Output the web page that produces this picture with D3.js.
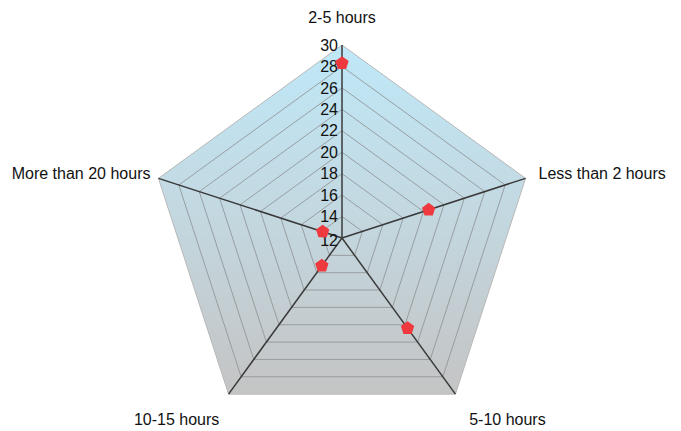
<!DOCTYPE html>
<html>
<head>
<meta charset="utf-8">
<script src="https://cdn.jsdelivr.net/npm/d3@7"></script>
<style>
  body { margin: 0; background: #fff; }
  svg { display: block; font-family: "Liberation Sans", Arial, sans-serif; }
</style>
</head>
<body>
<svg width="681" height="431"></svg>
<script>
const categories = ["2-5 hours", "Less than 2 hours", "5-10 hours", "10-15 hours", "More than 20 hours"];
const values = [28.3, 20.5, 22.4, 15.2, 13.9];
const ticks = [12, 14, 16, 18, 20, 22, 24, 26, 28, 30];

const svg = d3.select("svg");
const cx = 342, cy = 238, R = 193;
const g = svg.append("g").attr("transform", `translate(${cx},${cy})`);

const r = d3.scaleLinear().domain([12, 30]).range([0, R]);
const angle = d3.scaleLinear().domain([0, categories.length]).range([0, 2 * Math.PI]);
const pt = (i, v) => [Math.sin(angle(i)) * r(v), -Math.cos(angle(i)) * r(v)];

const defs = svg.append("defs");
const grad = defs.append("linearGradient")
  .attr("id", "bg").attr("x1", 0).attr("y1", 0).attr("x2", 0).attr("y2", 1);
grad.append("stop").attr("offset", "0%").attr("stop-color", "#bfe8f8");
grad.append("stop").attr("offset", "45%").attr("stop-color", "#c3d9e2");
grad.append("stop").attr("offset", "100%").attr("stop-color", "#c4c4c4");

const ring = v => categories.map((c, i) => pt(i, v));
const line = d3.line().curve(d3.curveLinearClosed);

g.append("path")
  .attr("d", line(ring(30)))
  .attr("fill", "url(#bg)")
  .attr("stroke", "#b8b8b8")
  .attr("stroke-width", 1);

g.selectAll("path.ring")
  .data(ticks.slice(1, -1))
  .enter()
  .append("path")
  .attr("class", "ring")
  .attr("d", d => line(ring(d)))
  .attr("fill", "none")
  .attr("stroke", "#92979b")
  .attr("stroke-width", 0.9);

g.selectAll("line.spoke")
  .data(categories)
  .enter()
  .append("line")
  .attr("class", "spoke")
  .attr("x1", 0).attr("y1", 0)
  .attr("x2", (d, i) => pt(i, 30)[0])
  .attr("y2", (d, i) => pt(i, 30)[1])
  .attr("stroke", "#3a3a3a")
  .attr("stroke-width", 1.5);

g.selectAll("text.tick")
  .data(ticks)
  .enter()
  .append("text")
  .attr("class", "tick")
  .attr("x", -4)
  .attr("y", d => -r(d))
  .attr("dy", d => d === 12 ? "0.5em" : "0.35em")
  .attr("text-anchor", "end")
  .attr("font-size", "16px")
  .attr("fill", "#111")
  .text(d => d);

const labelPos = [
  { dx: 0, dy: -28, anchor: "middle" },
  { dx: 13, dy: -5, anchor: "start" },
  { dx: 52, dy: 25, anchor: "middle" },
  { dx: -52, dy: 25, anchor: "middle" },
  { dx: -8, dy: -5, anchor: "end" }
];

g.selectAll("text.cat")
  .data(categories)
  .enter()
  .append("text")
  .attr("class", "cat")
  .attr("x", (d, i) => pt(i, 30)[0] + labelPos[i].dx)
  .attr("y", (d, i) => pt(i, 30)[1] + labelPos[i].dy)
  .attr("dy", "0.35em")
  .attr("text-anchor", (d, i) => labelPos[i].anchor)
  .attr("font-size", "16px")
  .attr("fill", "#111")
  .text(d => d);

const pentPath = d3.range(5).map(k => {
  const a = k * 2 * Math.PI / 5;
  return [Math.sin(a) * 7, -Math.cos(a) * 7];
});

g.selectAll("path.marker")
  .data(values)
  .enter()
  .append("path")
  .attr("class", "marker")
  .attr("transform", (d, i) => `translate(${pt(i, d)[0]},${pt(i, d)[1]})`)
  .attr("d", line(pentPath))
  .attr("fill", "#ee3a3e");
</script>
</body>
</html>
